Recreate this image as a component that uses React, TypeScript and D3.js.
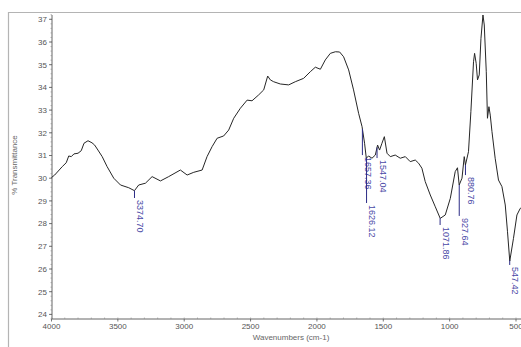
import React, { useEffect, useRef } from "react";
import * as d3 from "d3";

// FTIR spectrum (wavenumber cm-1, % transmittance)
const wavenumbers = [
  4000, 3976, 3919, 3889, 3870, 3851, 3831, 3800, 3776, 3755, 3725, 3695, 3675, 3650, 3618,
  3581, 3531, 3480, 3418, 3375, 3343,
  3292, 3242, 3179, 3117, 3029, 2978, 2928, 2865, 2828, 2790, 2752, 2703, 2665, 2627, 2577,
  2526, 2489, 2439, 2401, 2371, 2351, 2326, 2276, 2213, 2163, 2100, 2050, 2012, 1974, 1937,
  1899, 1861, 1829, 1799, 1761, 1724, 1686, 1660, 1641, 1628, 1611, 1585, 1560, 1543, 1528,
  1510, 1492, 1472, 1447, 1410, 1372, 1334, 1297, 1259, 1234, 1209, 1184, 1146, 1108, 1071,
  1033, 995, 958, 941, 928, 907, 890, 881, 858, 840, 820, 812, 800, 790, 777,
  764, 749, 739, 724, 715, 704, 694, 681, 657, 632, 606, 581, 564, 547, 519,
  493, 468, 455,
];
const transmittance = [
  30.03, 30.14, 30.51, 30.68, 30.98, 30.95, 31.07, 31.1, 31.21, 31.54, 31.65, 31.56, 31.46, 31.24, 30.95,
  30.51, 30.0, 29.7, 29.58, 29.45, 29.7,
  29.78, 30.07, 29.88, 30.07, 30.36, 30.14, 30.26, 30.36, 30.95, 31.39, 31.76, 31.86, 32.12, 32.64, 33.08,
  33.44, 33.41, 33.67, 33.89, 34.5, 34.33, 34.25, 34.15, 34.11, 34.25, 34.4, 34.69, 34.89, 34.8, 35.21,
  35.5, 35.57, 35.56, 35.35, 34.77, 33.89, 32.86, 32.27, 31.54, 30.88, 30.98, 30.88, 31.02, 31.46, 31.24,
  31.54, 31.83, 31.1, 30.95, 31.02, 30.88, 30.95, 30.73, 30.8, 30.66, 30.44, 29.85, 29.26, 28.74, 28.23,
  28.38, 29.11, 30.29, 30.46, 29.7, 30.0, 30.95, 30.58, 31.17, 32.93, 35.13, 35.5, 35.06, 34.33, 34.55,
  36.16, 37.19, 36.75, 34.69, 32.64, 33.15, 32.78, 32.05, 30.88, 29.92, 29.63, 28.82, 27.64, 26.35, 27.35,
  28.38, 28.67, 28.72,
];

// peak annotations: wavenumber, and the % value where the label text begins
const peakWn = [3374.7, 1657.36, 1626.12, 1547.04, 1071.86, 927.64, 880.76, 547.42];
const peakLabelAt = [29.04, 30.93, 28.82, 30.8, 27.85, 28.25, 30.05, 26.09];

const xTicks = [4000, 3500, 3000, 2500, 2000, 1500, 1000, 500];
const yTicks = [24, 25, 26, 27, 28, 29, 30, 31, 32, 33, 34, 35, 36, 37];

const W = 521;
const H = 347;

export default function App() {
  const ref = useRef<SVGSVGElement>(null);

  useEffect(() => {
    const svg = d3.select(ref.current);
    svg.selectAll("*").remove();

    const x = d3.scaleLinear().domain([4000, 500]).range([51.5, 516]);
    const y = d3.scaleLinear().domain([24, 37]).range([314.4, 19.3]);
    const axisX = 52;
    const axisY = 319;
    const tickFont = "'Liberation Sans Narrow', 'Liberation Sans', Arial, sans-serif";

    // outer frame
    svg.append("path")
      .attr("d", `M8.5,${H} V12.5 H${W}`)
      .attr("fill", "none")
      .attr("stroke", "#b4b4b4")
      .attr("stroke-width", 1.2);

    // axes lines
    svg.append("line")
      .attr("x1", axisX).attr("x2", axisX).attr("y1", 15).attr("y2", axisY)
      .attr("stroke", "#555").attr("stroke-width", 0.9);
    svg.append("line")
      .attr("x1", axisX).attr("x2", W).attr("y1", axisY).attr("y2", axisY)
      .attr("stroke", "#555").attr("stroke-width", 0.9);

    // y ticks
    const yMinor = d3.range(23.8, 37.21, 0.2);
    svg.append("g").selectAll("line").data(yMinor).join("line")
      .attr("x1", axisX - 1.5).attr("x2", axisX)
      .attr("y1", d => y(d)).attr("y2", d => y(d))
      .attr("stroke", "#888").attr("stroke-width", 0.6);
    svg.append("g").selectAll("line").data(yTicks).join("line")
      .attr("x1", axisX - 3).attr("x2", axisX)
      .attr("y1", d => y(d)).attr("y2", d => y(d))
      .attr("stroke", "#555").attr("stroke-width", 0.8);
    svg.append("g").selectAll("text").data(yTicks).join("text")
      .attr("x", axisX - 5)
      .attr("y", d => y(d) + 2.8)
      .attr("text-anchor", "end")
      .attr("font-family", tickFont)
      .attr("font-size", 8)
      .attr("fill", "#555")
      .text(d => d);

    // x ticks
    const xMinor = d3.range(500, 4001, 100);
    svg.append("g").selectAll("line").data(xMinor).join("line")
      .attr("x1", d => x(d)).attr("x2", d => x(d))
      .attr("y1", axisY - 1.5).attr("y2", axisY)
      .attr("stroke", "#888").attr("stroke-width", 0.6);
    svg.append("g").selectAll("line").data(xTicks).join("line")
      .attr("x1", d => x(d)).attr("x2", d => x(d))
      .attr("y1", axisY).attr("y2", axisY + 2.5)
      .attr("stroke", "#555").attr("stroke-width", 0.8);
    svg.append("g").selectAll("text").data(xTicks).join("text")
      .attr("x", d => x(d))
      .attr("y", axisY + 9.5)
      .attr("text-anchor", "middle")
      .attr("font-family", tickFont)
      .attr("font-size", 8)
      .attr("fill", "#555")
      .text(d => d);

    // axis titles
    svg.append("text")
      .attr("transform", "translate(17,165) rotate(-90)")
      .attr("text-anchor", "middle")
      .attr("font-family", "'Liberation Sans', Arial, sans-serif")
      .attr("font-size", 8)
      .attr("fill", "#666")
      .text("% Transmittance");
    svg.append("text")
      .attr("x", 291)
      .attr("y", 340)
      .attr("text-anchor", "middle")
      .attr("font-family", "'Liberation Sans', Arial, sans-serif")
      .attr("font-size", 8)
      .attr("fill", "#666")
      .text("Wavenumbers (cm-1)");

    // spectrum
    const pts = wavenumbers.map((w, i) => [w, transmittance[i]] as [number, number]);
    const line = d3.line<[number, number]>()
      .x(d => x(d[0]))
      .y(d => y(d[1]));
    svg.append("path")
      .datum(pts)
      .attr("d", line)
      .attr("fill", "none")
      .attr("stroke", "#262626")
      .attr("stroke-width", 1)
      .attr("stroke-linejoin", "round");

    // peak markers
    const curveAt = d3.scaleLinear().domain(wavenumbers).range(transmittance);
    peakWn.forEach((w, i) => {
      const px = x(w);
      const top = y(curveAt(w));
      const bottom = y(peakLabelAt[i]) - 2;
      if (bottom > top) {
        svg.append("line")
          .attr("x1", px).attr("x2", px)
          .attr("y1", top).attr("y2", bottom)
          .attr("stroke", "#2c2c86")
          .attr("stroke-width", 1);
      }
      svg.append("text")
        .attr("transform", `translate(${px + 2.6},${y(peakLabelAt[i])}) rotate(90)`)
        .attr("font-family", "'Liberation Sans', Arial, sans-serif")
        .attr("font-size", 9)
        .attr("fill", "#4a4aa6")
        .text(w.toFixed(2));
    });
  }, []);

  return (
    <svg
      ref={ref}
      width={W}
      height={H}
      style={{ position: "absolute", left: 0, top: 0, background: "#fff" }}
    />
  );
}
